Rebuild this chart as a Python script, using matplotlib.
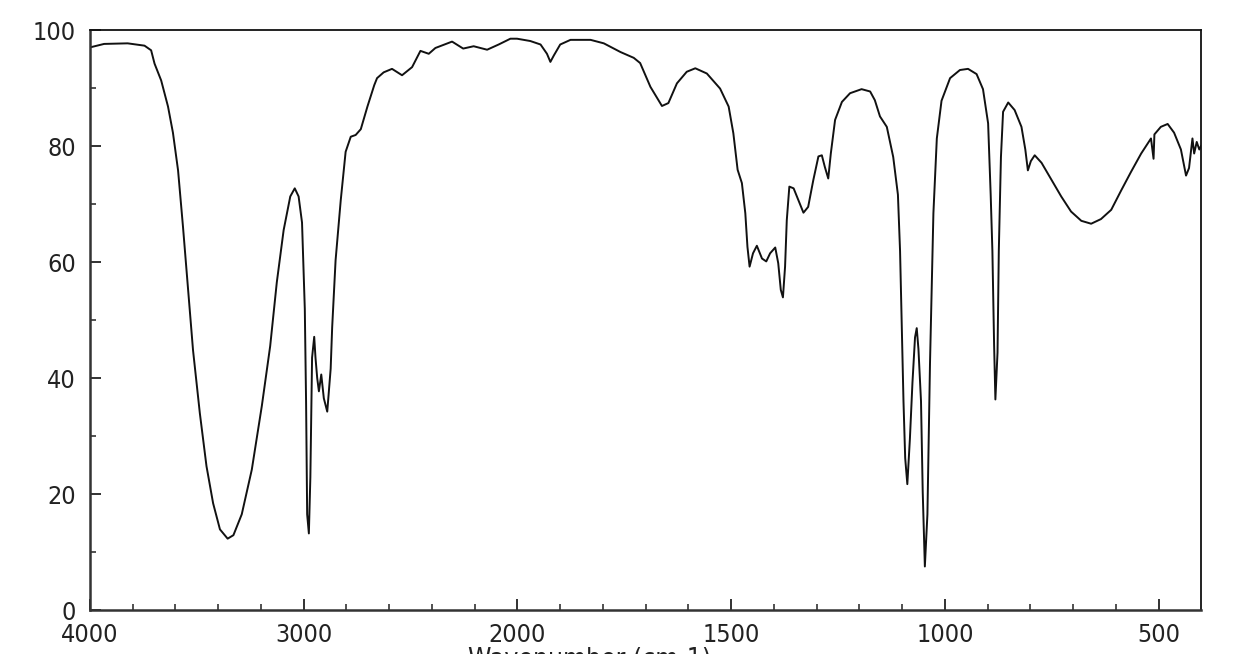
import numpy as np
import matplotlib
matplotlib.use("Agg")
import matplotlib.pyplot as plt
from matplotlib.ticker import FixedLocator

plt.rcParams['font.family'] = ['DejaVu Sans']
plt.rcParams['font.stretch'] = 'condensed'

# IR spectrum: wavenumber (cm-1) and transmittance (%)
wavenumber = [
    4000, 3934, 3824, 3745, 3714, 3698, 3667, 3635, 3612, 3588, 3565, 3541,
    3518, 3486, 3455, 3424, 3392, 3356, 3329, 3290, 3243, 3196, 3157, 3126,
    3094, 3063, 3042, 3024, 3008, 2995, 2989, 2984, 2976, 2969, 2961, 2951,
    2945, 2937, 2929, 2918, 2906, 2890, 2874, 2867, 2851, 2827, 2804, 2780,
    2757, 2733, 2702, 2670, 2657, 2626, 2587, 2540, 2493, 2454, 2415, 2384,
    2306, 2254, 2205, 2142, 2088, 2033, 2002, 1970, 1946, 1931, 1923, 1915,
    1900, 1876, 1829, 1798, 1759, 1728, 1713, 1689, 1662, 1647, 1627, 1604,
    1584, 1557, 1526, 1506, 1495, 1485, 1475, 1467, 1462, 1457, 1449, 1440,
    1428, 1418, 1409, 1397, 1390, 1384, 1379, 1374, 1370, 1364, 1354, 1343,
    1331, 1320, 1308, 1296, 1288, 1281, 1273, 1267, 1257, 1241, 1222, 1195,
    1175, 1164, 1152, 1136, 1121, 1110, 1105, 1101, 1097, 1093, 1088, 1082,
    1076, 1070, 1066, 1062, 1056, 1052, 1047, 1041, 1035, 1027, 1019, 1008,
    988, 965, 946, 926, 911, 899, 893, 889, 885, 882, 877, 874,
    869, 864, 852, 837, 821, 812, 806, 799, 790, 774, 751, 728,
    705, 681, 658, 635, 611, 588, 565, 541, 518, 512, 510, 495,
    479, 464, 448, 436, 429, 421, 417, 411, 405, 401,
]
transmittance = [
    97.0, 97.6, 97.7, 97.3, 96.5, 94.2, 91.3, 86.8, 82.3, 75.8, 66.1, 55.2,
    44.8, 33.9, 24.8, 18.4, 13.9, 12.3, 12.9, 16.5, 24.2, 35.2, 45.5, 56.5,
    65.5, 71.3, 72.7, 71.3, 66.8, 51.9, 35.8, 16.5, 13.2, 22.9, 43.5, 47.1,
    43.5, 40.0, 37.7, 40.6, 36.5, 34.2, 41.6, 48.7, 60.3, 70.6, 79.0, 81.6,
    81.9, 82.9, 86.8, 90.5, 91.7, 92.7, 93.3, 92.2, 93.6, 96.4, 95.9, 96.9,
    98.0, 96.8, 97.2, 96.6, 97.5, 98.5, 98.5, 98.1, 97.5, 95.9, 94.5, 95.6,
    97.5, 98.3, 98.3, 97.7, 96.2, 95.2, 94.3, 90.2, 86.9, 87.4, 90.8, 92.8,
    93.4, 92.5, 89.9, 86.8, 82.2, 75.9, 73.6, 68.4, 62.6, 59.2, 61.5, 62.8,
    60.6, 60.1, 61.5, 62.5, 59.8, 55.2, 53.9, 59.2, 67.2, 73.0, 72.7, 70.7,
    68.5, 69.5, 74.1, 78.2, 78.4, 76.4, 74.4, 78.7, 84.5, 87.6, 89.1, 89.8,
    89.4, 87.9, 85.1, 83.3, 78.1, 71.6, 61.9, 48.9, 36.0, 26.2, 21.7, 29.5,
    39.2, 47.0, 48.6, 45.0, 36.0, 20.4, 7.5, 16.5, 42.4, 68.4, 81.3, 87.8,
    91.7, 93.1, 93.3, 92.4, 89.8, 83.9, 71.6, 61.9, 45.7, 36.3, 44.4, 61.9,
    78.1, 85.9, 87.5, 86.2, 83.3, 79.4, 75.8, 77.4, 78.4, 77.1, 74.2, 71.3,
    68.7, 67.1, 66.6, 67.4, 69.0, 72.3, 75.5, 78.7, 81.3, 77.8, 82.0, 83.3,
    83.8, 82.3, 79.4, 74.9, 76.2, 81.3, 78.7, 80.7, 79.4, 80.0,
]

x_major = [4000, 3000, 2000, 1500, 1000, 500]
x_minor_high = list(range(3800, 2000, -200))
x_minor_low = list(range(1900, 400, -100))
y_major = [0, 20, 40, 60, 80, 100]
y_minor = [10, 30, 50, 70, 90]


# spectrometer axis: scale doubles below 2000 cm-1
def fwd(w):
    w = np.asarray(w, dtype=float)
    return np.where(w >= 2000, w, 2 * w - 2000)


def inv(u):
    u = np.asarray(u, dtype=float)
    return np.where(u >= 2000, u, (u + 2000) / 2)


fig = plt.figure(figsize=(12.45, 6.54), dpi=100)
ax = fig.add_axes([90 / 1245, 1 - 610 / 654, (1201 - 90) / 1245, 580 / 654])

ax.plot(wavenumber, transmittance, color='#111111', lw=1.4)

ax.set_xscale('function', functions=(fwd, inv))
ax.set_xlim(4000, 401)
ax.set_ylim(0, 100)

ax.xaxis.set_major_locator(FixedLocator(x_major))
ax.xaxis.set_minor_locator(FixedLocator(x_minor_high + x_minor_low))
ax.set_xticklabels([str(v) for v in x_major])
ax.yaxis.set_major_locator(FixedLocator(y_major))
ax.yaxis.set_minor_locator(FixedLocator(y_minor))
ax.set_yticklabels([str(v) for v in y_major])

ax.tick_params(which='major', direction='in', length=8, width=1.3,
               labelsize=18, colors='#222222', pad=10)
ax.tick_params(which='minor', direction='in', length=4.5, width=1.1,
               colors='#222222')
ax.tick_params(axis='x', which='major', pad=9)

for side in ['left', 'bottom']:
    ax.spines[side].set_linewidth(1.8)
    ax.spines[side].set_color('#333333')
for side in ['top', 'right']:
    ax.spines[side].set_linewidth(1.3)
    ax.spines[side].set_color('#111111')

# axis title sits mostly below the bottom edge of the picture
fig.text(590 / 1245, 1 - 647 / 654, 'Wavenumber (cm-1)', ha='center',
         va='top', fontsize=19, color='#222222')

fig.savefig('out.png', dpi=100, facecolor='white')
